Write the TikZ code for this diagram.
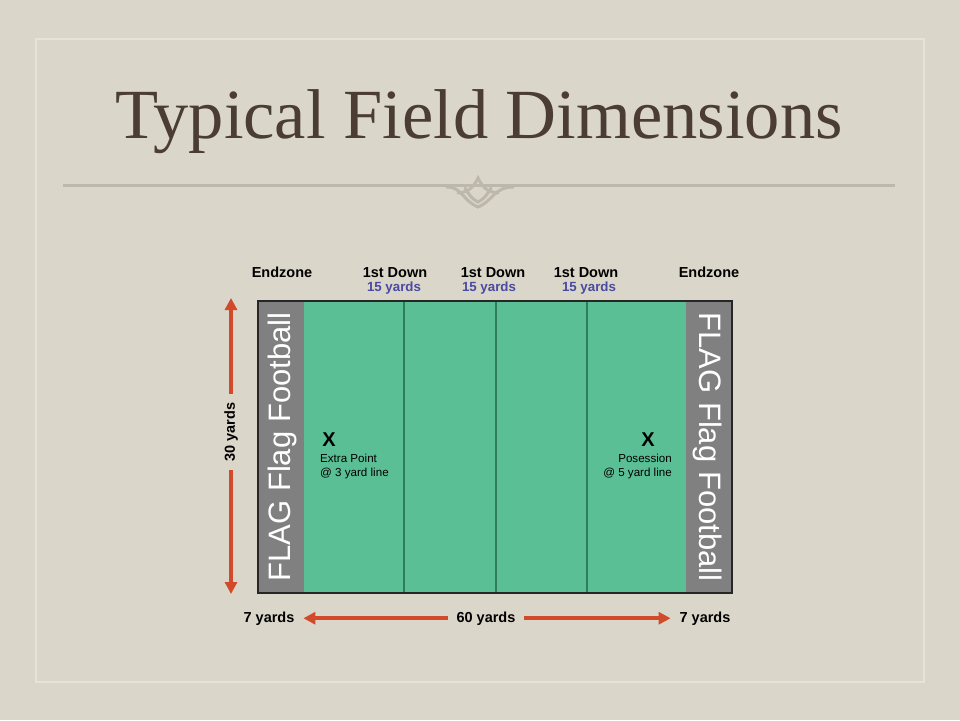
\documentclass[tikz,border=0pt]{standalone}
\usepackage{fontspec}
\setmainfont{Liberation Serif}
\setsansfont{Liberation Sans}
\usetikzlibrary{positioning,calc,arrows.meta}

\definecolor{paper}{HTML}{DAD6C9}
\definecolor{framelt}{HTML}{E6E3D9}
\definecolor{rulegray}{HTML}{BDB8AB}
\definecolor{titlebrown}{HTML}{4B3D33}
\definecolor{turf}{HTML}{5BBF96}
\definecolor{turfline}{HTML}{2F7D5C}
\definecolor{zonegray}{HTML}{808080}
\definecolor{yardblue}{HTML}{4A4AA0}
\definecolor{arrowred}{HTML}{D14A2A}

\tikzset{
  toplbl/.style={font=\sffamily\bfseries\fontsize{14.5}{16}\selectfont, anchor=base},
  bluelbl/.style={font=\sffamily\bfseries\fontsize{13.3}{15}\selectfont, text=yardblue, anchor=base},
  yardslbl/.style={font=\sffamily\bfseries\fontsize{14.5}{16}\selectfont, inner sep=0pt, outer sep=9pt},
  zonetxt/.style={font=\sffamily\fontsize{31}{34}\selectfont, text=white},
  xmark/.style={font=\sffamily\bfseries\fontsize{20}{22}\selectfont},
  notelbl/.style={font=\sffamily\fontsize{11.6}{13.5}\selectfont, inner sep=0pt},
  yardarrow/.style={arrowred, line width=4pt, -{Triangle[length=12pt,width=12pt]}},
  ornament/.style={draw=rulegray, line width=3pt, line cap=round},
}

\begin{document}
\begin{tikzpicture}[x=1pt,y=-1pt]
    \useasboundingbox (0,0) rectangle (960,720);
    % slide background
    \fill[paper] (0,0) rectangle (960,720);
    \draw[framelt, line width=2pt] (36,39) rectangle (924,682);

    % title and rule
    \node[font=\fontsize{70.5}{80}\selectfont, text=titlebrown, anchor=base] (title) at (479,138) {Typical Field Dimensions};
    \draw[rulegray, line width=3pt] (63,185) -- (895,185);
    \draw[ornament] (447,187) .. controls (462,187) and (463,201) .. (478,207) .. controls (493,201) and (494,187) .. (513,187);
    \draw[ornament] (458,193) .. controls (470,192) and (474,186) .. (478,178) .. controls (482,186) and (486,192) .. (498,193);
    \draw[ornament] (465,188) .. controls (470,197) and (474,200) .. (478,202) .. controls (482,200) and (486,197) .. (491,188);

    % field
    \fill[zonegray] (258,301) rectangle (304,593);
    \fill[turf] (304,301) rectangle (686,593);
    \fill[zonegray] (686,301) rectangle (732,593);
    \foreach \xl in {404,496,587}
        \draw[turfline, line width=1.2pt] (\xl,301) -- (\xl,593);
    \draw[black!85, line width=1.5pt] (258,301) rectangle (732,593);

    % endzone texts
    \node[zonetxt, rotate=90] (flagL) at (282,447) {FLAG Flag Football};
    \node[zonetxt, rotate=-90] (flagR) at (708,447) {FLAG Flag Football};

    % labels above
    \node[toplbl] (zoneL) at (282,277) {Endzone};
    \node[toplbl] (downA) at (395,277) {1st Down};
    \node[toplbl] (downB) at (493,277) {1st Down};
    \node[toplbl] (downC) at (586,277) {1st Down};
    \node[toplbl] (zoneR) at (709,277) {Endzone};
    \node[bluelbl] (fifteenA) at (394,291) {15 yards};
    \node[bluelbl] (fifteenB) at (489,291) {15 yards};
    \node[bluelbl] (fifteenC) at (589,291) {15 yards};

    % spots
    \node[xmark] (xExtra) at (329,440) {X};
    \node[notelbl, align=left, anchor=north west] (extra) at (320,454) {Extra Point\\@ 3 yard line};
    \node[xmark] (xPoss) at (648,440) {X};
    \node[notelbl, align=right, anchor=north east] (poss) at (672,454) {Posession\\@ 5 yard line};

    % width arrow
    \coordinate (fieldtop) at (231,298);
    \coordinate (fieldbot) at (231,594);
    \node[yardslbl, rotate=90] (thirty) at (231,432) {30 yards};
    \draw[yardarrow] (thirty) -- (fieldtop);
    \draw[yardarrow] (thirty) -- (fieldbot);

    % length arrows
    \node[yardslbl, anchor=base] (sevenL) at (269,622) {7 yards};
    \node[yardslbl, anchor=base] (sixty) at (486,622) {60 yards};
    \node[yardslbl, anchor=base] (sevenR) at (705,622) {7 yards};
    \draw[yardarrow] (sixty) -- (sevenL);
    \draw[yardarrow] (sixty) -- (sevenR);
\end{tikzpicture}
\end{document}
